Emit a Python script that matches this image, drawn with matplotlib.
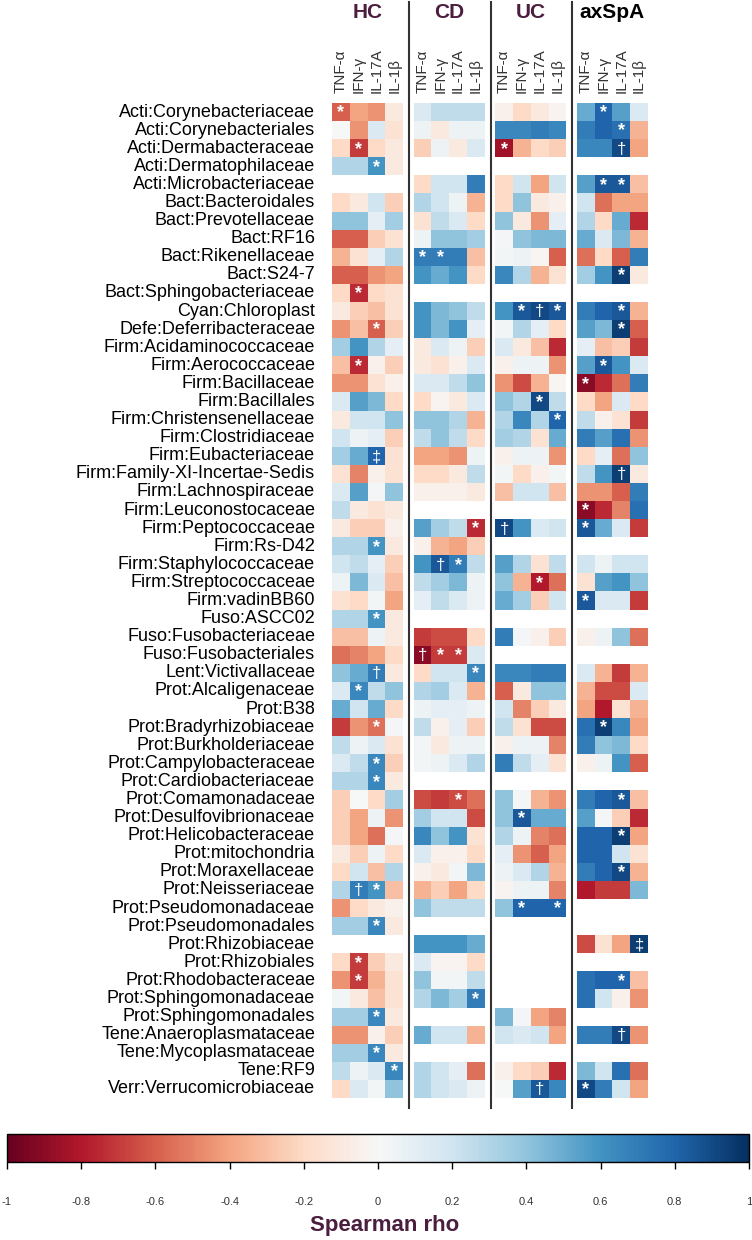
import numpy as np
import matplotlib
matplotlib.use("Agg")
from matplotlib import pyplot as plt

taxa = ["Acti:Corynebacteriaceae", "Acti:Corynebacteriales", "Acti:Dermabacteraceae",
        "Acti:Dermatophilaceae", "Acti:Microbacteriaceae", "Bact:Bacteroidales",
        "Bact:Prevotellaceae", "Bact:RF16", "Bact:Rikenellaceae", "Bact:S24-7",
        "Bact:Sphingobacteriaceae", "Cyan:Chloroplast", "Defe:Deferribacteraceae",
        "Firm:Acidaminococcaceae", "Firm:Aerococcaceae", "Firm:Bacillaceae",
        "Firm:Bacillales", "Firm:Christensenellaceae", "Firm:Clostridiaceae",
        "Firm:Eubacteriaceae", "Firm:Family-XI-Incertae-Sedis", "Firm:Lachnospiraceae",
        "Firm:Leuconostocaceae", "Firm:Peptococcaceae", "Firm:Rs-D42",
        "Firm:Staphylococcaceae", "Firm:Streptococcaceae", "Firm:vadinBB60",
        "Fuso:ASCC02", "Fuso:Fusobacteriaceae", "Fuso:Fusobacteriales",
        "Lent:Victivallaceae", "Prot:Alcaligenaceae", "Prot:B38",
        "Prot:Bradyrhizobiaceae", "Prot:Burkholderiaceae", "Prot:Campylobacteraceae",
        "Prot:Cardiobacteriaceae", "Prot:Comamonadaceae", "Prot:Desulfovibrionaceae",
        "Prot:Helicobacteraceae", "Prot:mitochondria", "Prot:Moraxellaceae",
        "Prot:Neisseriaceae", "Prot:Pseudomonadaceae", "Prot:Pseudomonadales",
        "Prot:Rhizobiaceae", "Prot:Rhizobiales", "Prot:Rhodobacteraceae",
        "Prot:Sphingomonadaceae", "Prot:Sphingomonadales", "Tene:Anaeroplasmataceae",
        "Tene:Mycoplasmataceae", "Tene:RF9", "Verr:Verrucomicrobiaceae"]

groups = ["HC", "CD", "UC", "axSpA"]
cytokines = ["TNF-α", "IFN-γ", "IL-17A", "IL-1β"]

# rho per taxon (None = not tested)
hc_rho = [
    [-0.6, -0.4, -0.45, -0.1], [0.0, -0.45, 0.15, -0.15], [-0.2, -0.7, -0.2, -0.1],
    [0.3, 0.3, 0.6, -0.1], None, [-0.2, -0.1, 0.2, -0.25],
    [0.4, 0.4, 0.1, 0.35], [-0.6, -0.6, -0.25, -0.15], [-0.35, -0.15, 0.1, 0.3],
    [-0.6, -0.6, -0.45, -0.4], [-0.2, -0.75, -0.2, -0.15], [-0.1, -0.25, -0.3, -0.15],
    [-0.45, -0.3, -0.6, -0.25], [0.35, 0.6, 0.3, 0.1], [-0.3, -0.75, -0.05, -0.25],
    [-0.45, -0.45, -0.15, -0.05], [0.15, 0.55, 0.45, -0.2], [-0.1, 0.2, 0.2, 0.4],
    [0.2, 0.05, 0.1, -0.25], [0.35, 0.5, 0.8, -0.15], [-0.15, -0.5, -0.05, -0.15],
    [0.15, 0.55, 0.02, 0.4], [0.25, -0.1, -0.15, -0.1], [-0.1, -0.25, -0.25, -0.05],
    [0.3, 0.3, 0.6, -0.1], [0.2, 0.25, 0.1, -0.25], [0.05, 0.45, 0.15, -0.3],
    [-0.15, -0.2, 0.03, -0.4], [0.3, 0.3, 0.6, -0.1], [-0.3, -0.3, 0.05, -0.1],
    [-0.55, -0.5, -0.4, -0.2], [0.4, 0.5, 0.7, -0.1], [0.15, 0.65, 0.25, 0.4],
    [0.5, 0.2, 0.5, -0.2], [-0.7, -0.45, -0.55, 0.02], [0.25, 0.05, 0.15, -0.15],
    [0.15, 0.25, 0.65, -0.25], [0.3, 0.3, 0.65, -0.1], [-0.25, 0.0, -0.2, 0.35],
    [-0.25, -0.4, 0.05, -0.45], [-0.25, -0.4, -0.55, 0.02], [-0.1, -0.25, 0.05, -0.2],
    [-0.2, 0.2, -0.3, 0.3], [0.3, 0.7, 0.6, -0.3], [-0.45, -0.2, -0.1, -0.05],
    [0.35, 0.35, 0.65, -0.1], None, [-0.2, -0.7, -0.25, -0.1],
    [-0.45, -0.7, -0.35, -0.15], [0.03, -0.1, -0.3, -0.15], [0.35, 0.35, 0.65, -0.1],
    [-0.45, -0.45, -0.05, -0.25], [0.35, 0.35, 0.65, -0.1], [0.25, 0.05, 0.15, 0.65],
    [-0.2, 0.15, 0.03, 0.4]]

cd_rho = [
    [0.15, 0.25, 0.25, 0.25], [0.05, -0.1, 0.05, 0.05], [-0.25, 0.05, -0.1, 0.15],
    None, [-0.2, 0.2, 0.2, 0.7], [0.3, 0.2, 0.05, -0.35],
    [-0.15, 0.25, 0.15, -0.2], [0.05, 0.4, 0.4, 0.35], [0.7, 0.7, 0.7, -0.3],
    [0.6, 0.5, 0.6, -0.2], None, [0.6, 0.45, 0.4, 0.25],
    [0.6, 0.45, 0.6, 0.1], [-0.1, 0.15, 0.05, -0.25], [-0.1, -0.15, -0.05, 0.15],
    [0.15, 0.15, 0.25, 0.4], [-0.2, -0.03, -0.1, 0.15], [0.4, 0.4, 0.3, -0.35],
    [0.25, 0.4, 0.25, -0.2], [-0.4, -0.4, -0.45, 0.05], [-0.2, -0.2, -0.1, 0.25],
    [-0.05, -0.05, -0.05, -0.1], None, [0.55, 0.35, 0.25, -0.75],
    [-0.05, -0.35, -0.4, -0.25], [0.6, 0.85, 0.7, 0.25], [0.25, 0.35, 0.45, 0.05],
    [0.1, 0.25, 0.15, 0.05], None, [-0.7, -0.65, -0.65, -0.2],
    [-0.9, -0.7, -0.7, 0.15], [-0.2, 0.2, 0.2, 0.65], [0.3, 0.35, 0.15, -0.35],
    [0.05, 0.1, 0.1, 0.05], [0.25, -0.05, 0.1, -0.25], [0.03, -0.1, 0.05, 0.05],
    [0.03, 0.05, 0.15, 0.3], None, [-0.65, -0.7, -0.65, -0.55],
    [0.35, 0.2, 0.2, -0.65], [0.65, 0.4, 0.6, -0.15], [0.15, -0.05, -0.05, -0.2],
    [-0.05, -0.1, 0.03, 0.45], [-0.35, -0.25, -0.4, -0.2], [0.4, 0.25, 0.25, 0.25],
    None, [0.6, 0.6, 0.6, 0.5], [0.15, -0.03, -0.03, -0.2],
    [0.4, 0.03, 0.03, 0.25], [0.3, 0.45, 0.35, 0.7], None,
    [0.5, 0.2, 0.2, -0.35], None, [0.3, 0.2, 0.1, -0.55],
    [0.3, 0.2, 0.15, 0.05]]

uc_rho = [
    [-0.05, -0.2, -0.1, -0.03], [0.65, 0.65, 0.7, 0.65], [-0.85, -0.35, -0.2, -0.25],
    None, [-0.2, 0.2, -0.4, 0.2], [-0.2, 0.4, -0.1, -0.05],
    [0.4, -0.1, -0.45, 0.1], [0.02, 0.4, 0.45, 0.45], [0.03, 0.05, -0.02, -0.6],
    [0.65, 0.3, -0.35, -0.15], None, [0.6, 0.85, 0.9, 0.85],
    [0.03, 0.3, 0.1, -0.2], [0.15, -0.1, -0.3, -0.75], [-0.05, 0.05, 0.05, -0.45],
    [-0.45, -0.65, -0.35, -0.02], [0.4, 0.3, 0.9, 0.25], [0.3, 0.65, 0.3, 0.8],
    [0.35, 0.3, -0.15, 0.5], [-0.05, 0.05, 0.05, -0.45], [0.03, -0.2, -0.05, 0.03],
    [-0.3, 0.2, 0.2, -0.3], None, [0.9, 0.6, 0.15, 0.2],
    None, [0.55, 0.3, -0.15, 0.25], [0.4, -0.35, -0.8, -0.55],
    [0.5, 0.35, -0.25, 0.2], None, [0.7, 0.02, -0.05, -0.25],
    None, [0.65, 0.65, 0.7, 0.7], [-0.6, -0.1, 0.4, 0.4],
    [0.2, -0.5, -0.25, -0.1], [0.25, -0.15, -0.65, -0.65], [-0.05, 0.05, 0.05, -0.5],
    [0.7, 0.25, 0.1, -0.15], None, [0.4, 0.02, -0.35, -0.45],
    [0.4, 0.85, 0.5, 0.5], [0.3, 0.05, -0.5, -0.55], [0.1, -0.45, -0.6, -0.4],
    [0.05, 0.15, 0.3, -0.35], [-0.03, 0.05, 0.05, -0.5], [0.4, 0.8, 0.8, 0.8],
    None, None, None,
    None, None, [0.45, 0.02, -0.4, -0.5],
    [0.2, 0.15, 0.2, -0.4], None, [-0.05, -0.2, -0.25, -0.75],
    [0.0, 0.55, 0.85, 0.65]]

ax_rho = [
    [0.5, 0.8, 0.55, 0.15], [0.7, 0.8, 0.75, -0.35], [0.65, 0.65, 0.9, -0.4],
    None, [0.55, 0.85, 0.85, -0.3], [0.2, -0.55, -0.4, -0.4],
    [0.3, -0.2, 0.5, -0.75], [0.5, 0.15, 0.45, -0.35], [-0.55, -0.2, -0.6, 0.7],
    [0.35, 0.6, 0.95, -0.1], None, [0.7, 0.8, 0.85, -0.35],
    [0.55, 0.45, 0.95, -0.6], [0.1, -0.3, -0.25, -0.7], [0.55, 0.85, 0.6, 0.15],
    [-0.9, -0.75, -0.55, 0.7], [-0.2, -0.4, 0.15, -0.2], [0.25, -0.05, -0.15, -0.7],
    [0.7, 0.55, 0.75, -0.45], [-0.2, 0.1, -0.55, 0.4], [0.25, 0.6, 0.95, -0.1],
    [-0.45, -0.45, -0.6, 0.7], [-0.9, -0.75, -0.5, 0.75], [0.85, 0.5, 0.15, -0.7],
    None, [0.2, 0.05, 0.2, 0.2], [-0.15, 0.55, 0.6, 0.4],
    [0.85, 0.15, 0.15, -0.7], None, [-0.05, 0.05, 0.4, -0.55],
    None, [0.15, -0.35, -0.7, -0.35], [-0.35, -0.65, -0.65, 0.15],
    [-0.4, -0.8, -0.15, -0.35], [0.75, 0.95, 0.65, -0.4], [0.7, 0.4, 0.45, -0.2],
    [-0.05, 0.05, 0.6, -0.6], None, [0.7, 0.8, 0.85, -0.3],
    [0.55, 0.02, -0.25, -0.75], [0.8, 0.8, 0.95, -0.4], [0.8, 0.8, 0.2, -0.15],
    [0.7, 0.8, 0.9, -0.35], [-0.8, -0.7, -0.7, 0.45], None,
    None, [-0.65, -0.15, -0.4, 0.95], None,
    [0.75, 0.8, 0.8, -0.3], [0.75, 0.2, -0.05, -0.45], None,
    [0.7, 0.7, 0.9, -0.45], None, [0.45, 0.2, 0.75, -0.55],
    [0.9, 0.7, 0.2, -0.4]]

# significance marks, one char per cytokine ('.' = none)
hc_sig = ["*...", "....", ".*..", "..*.", "....", "....", "....", "....", "....", "....",
          ".*..", "....", "..*.", "....", ".*..", "....", "....", "....", "....", "..‡.",
          "....", "....", "....", "....", "..*.", "....", "....", "....", "..*.", "....",
          "....", "..†.", ".*..", "....", "..*.", "....", "..*.", "..*.", "....", "....",
          "....", "....", "....", ".†*.", "....", "..*.", "....", ".*..", ".*..", "....",
          "..*.", "....", "..*.", "...*", "...."]
cd_sig = ["...."] * 8 + ["**.."] + ["...."] * 14 + ["...*", "....", ".†*."] + ["...."] * 4 + \
         ["†**.", "...*"] + ["...."] * 6 + ["..*."] + ["...."] * 10 + ["...*"] + ["...."] * 5
uc_sig = ["....", "....", "*..."] + ["...."] * 8 + [".*†*"] + ["...."] * 4 + ["..*.", "...*"] + \
         ["...."] * 5 + ["†..."] + ["...."] * 2 + ["..*."] + ["...."] * 12 + [".*.."] + \
         ["...."] * 4 + [".*.*"] + ["...."] * 9 + ["..†."]
ax_sig = [".*..", "..*.", "..†.", "....", ".**.", "....", "....", "....", "....", "..*.",
          "....", "..*.", "..*.", "....", ".*..", "*...", "....", "....", "....", "....",
          "..†.", "....", "*...", "*...", "....", "....", "....", "*...", "....", "....",
          "....", "....", "....", "....", ".*..", "....", "....", "....", "..*.", "....",
          "..*.", "....", "..*.", "....", "....", "....", "...‡", "....", "..*.", "....",
          "....", "..†.", "....", "....", "*..."]

plt.rcParams['font.family'] = ['Liberation Sans', 'DejaVu Sans']

n = len(taxa)
gstep = 4.58
fig = plt.figure(figsize=(7.52, 12.40), dpi=100)
ax = fig.add_axes([332 / 752, 1 - 1098 / 1240, 316 / 752, 995 / 1240])

cmap = plt.get_cmap('RdBu')
hdr_col = ['#4b1d3f', '#4b1d3f', '#4b1d3f', 'black']
for g, (rho, sig) in enumerate(zip([hc_rho, cd_rho, uc_rho, ax_rho],
                                   [hc_sig, cd_sig, uc_sig, ax_sig])):
    arr = np.array([r if r is not None else [np.nan] * 4 for r in rho], dtype=float)
    x0 = g * gstep
    xe = x0 + np.arange(5)
    ye = np.arange(n + 1)
    mesh = ax.pcolormesh(xe, ye, np.ma.masked_invalid(arr), cmap=cmap, vmin=-1, vmax=1)
    for i in range(n):
        for j in range(4):
            s = sig[i][j]
            if s != '.':
                ax.text(x0 + j + 0.5, i + 0.55, s, color='white', ha='center', va='center',
                        fontsize=13 if s == '*' else 12, fontweight='bold' if s == '*' else 'normal')
    # header and cytokine labels
    ax.text(x0 + 2, -5.0, groups[g], ha='center', va='center', fontsize=15,
            fontweight='bold', color=hdr_col[g], clip_on=False)
    for j in range(4):
        ax.text(x0 + j + 0.5, -0.55, cytokines[j], rotation=90, ha='center', va='bottom',
                fontsize=11, color='#333333', clip_on=False)
    if g < 3:
        xl = x0 + 4 + 0.33
        ax.plot([xl, xl], [-5.58, 55.55], color='#333333', lw=1.5, clip_on=False)

for i, t in enumerate(taxa):
    ax.text(-0.95, i + 0.5, t, ha='right', va='center', fontsize=13, color='black', clip_on=False)

ax.set_xlim(0, 3 * gstep + 4)
ax.set_ylim(n, 0)
ax.axis('off')

# colour bar
cax = fig.add_axes([7 / 752, 1 - 1162 / 1240, 742 / 752, 28 / 1240])
cb = fig.colorbar(mesh, cax=cax, orientation='horizontal')
cb.set_ticks(np.round(np.arange(-1, 1.01, 0.2), 1))
cb.set_ticklabels(['-1', '-0.8', '-0.6', '-0.4', '-0.2', '0', '0.2', '0.4', '0.6', '0.8', '1'])
cax.tick_params(length=5, width=1, pad=20, labelsize=8, labelcolor='#333333')
cb.outline.set_linewidth(1)
fig.text(385 / 752, 1 - 1226 / 1240, 'Spearman rho', ha='center', va='center',
         fontsize=16, fontweight='bold', color='#4b1d3f')

fig.savefig('out.png', dpi=100)
